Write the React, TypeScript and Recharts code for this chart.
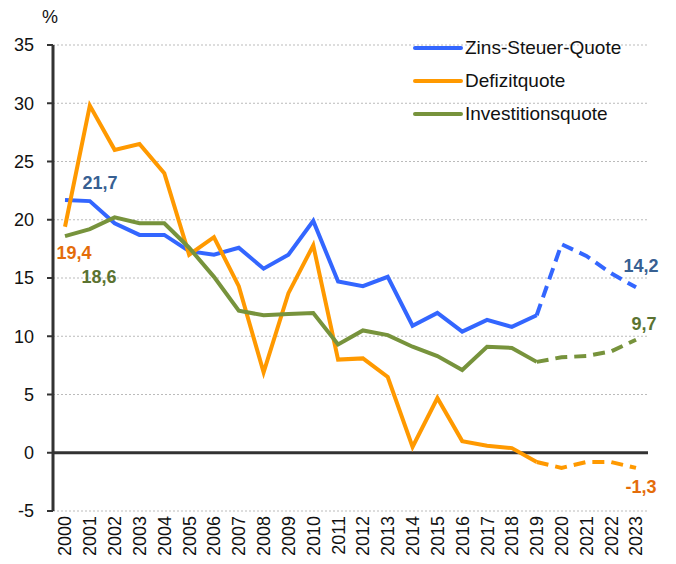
import React from "react";
import {
  LineChart,
  Line,
  XAxis,
  YAxis,
  CartesianGrid,
  ReferenceLine,
  Legend,
  LabelList,
  Customized,
} from "recharts";

const YEARS = [
  "2000", "2001", "2002", "2003", "2004", "2005", "2006", "2007",
  "2008", "2009", "2010", "2011", "2012", "2013", "2014", "2015",
  "2016", "2017", "2018", "2019", "2020", "2021", "2022", "2023",
];

// Zins-Steuer-Quote
const ZINS = [
  21.7, 21.6, 19.7, 18.7, 18.7, 17.3, 17.0, 17.6, 15.8, 17.0, 19.9, 14.7,
  14.3, 15.1, 10.9, 12.0, 10.4, 11.4, 10.8, 11.8, 17.9, 16.9, 15.4, 14.2,
];

// Defizitquote
const DEFIZIT = [
  19.4, 29.8, 26.0, 26.5, 24.0, 17.0, 18.5, 14.3, 6.9, 13.7, 17.8, 8.0,
  8.1, 6.5, 0.5, 4.7, 1.0, 0.6, 0.4, -0.8, -1.3, -0.8, -0.8, -1.3,
];

// Investitionsquote
const INVEST = [
  18.6, 19.2, 20.2, 19.7, 19.7, 17.6, 15.1, 12.2, 11.8, 11.9, 12.0, 9.3,
  10.5, 10.1, 9.1, 8.3, 7.1, 9.1, 9.0, 7.8, 8.2, 8.3, 8.7, 9.7,
];

const Y_TICKS = [-5, 0, 5, 10, 15, 20, 25, 30, 35];

// ab hier Prognose (gestrichelt)
const FORECAST_FROM = "2019";

const SERIES = [
  { key: "zins", name: "Zins-Steuer-Quote", values: ZINS, color: "#3366FF", label: "#376092" },
  { key: "defizit", name: "Defizitquote", values: DEFIZIT, color: "#FF9900", label: "#E46C0A" },
  { key: "invest", name: "Investitionsquote", values: INVEST, color: "#77933C", label: "#5B7331" },
];

// label offsets relative to the first / last point
const LABEL_OFFSETS: Record<string, { first: [number, number]; last: [number, number] }> = {
  zins: { first: [35, -17], last: [5, -21] },
  defizit: { first: [9, 26], last: [5, 19] },
  invest: { first: [34, 41], last: [8, -16] },
};

const FONT = "'Liberation Sans', Arial, sans-serif";

const splitIdx = YEARS.indexOf(FORECAST_FROM);
const data = YEARS.map((year, i) => {
  const row: any = { year };
  SERIES.forEach((s) => {
    row[s.key] = i <= splitIdx ? s.values[i] : null;
    row[s.key + "_p"] = i >= splitIdx ? s.values[i] : null;
  });
  return row;
});

const fmt = (v: number) => v.toFixed(1).replace(".", ",");

const pointLabel = (key: string, color: string, which: "first" | "last") => (props: any) => {
  const { x, y, value, index } = props;
  const target = which === "first" ? 0 : YEARS.length - 1;
  if (index !== target || value == null) return null;
  const [dx, dy] = LABEL_OFFSETS[key][which];
  return (
    <text
      x={x + dx}
      y={y + dy}
      textAnchor="middle"
      dominantBaseline="central"
      fontFamily={FONT}
      fontSize={18}
      fontWeight="bold"
      fill={color}
    >
      {fmt(value)}
    </text>
  );
};

const YearTick = (props: any) => {
  const { x, y, payload } = props;
  return (
    <text
      x={x}
      y={y}
      transform={`rotate(-90 ${x} ${y})`}
      textAnchor="end"
      dy="0.36em"
      fontFamily={FONT}
      fontSize={18}
      fill="#111"
    >
      {payload.value}
    </text>
  );
};

const LegendBox = () => (
  <div style={{ fontFamily: FONT, fontSize: 19, color: "#111" }}>
    {SERIES.map((s) => (
      <div key={s.key} style={{ display: "flex", alignItems: "center", height: 33 }}>
        <svg width={52} height={10} style={{ marginRight: 0 }}>
          <line x1={2} y1={5} x2={48} y2={5} stroke={s.color} strokeWidth={4} strokeLinecap="round" />
        </svg>
        <span style={{ whiteSpace: "nowrap" }}>{s.name}</span>
      </div>
    ))}
  </div>
);

export default function App() {
  return (
    <div style={{ width: 676, height: 564, background: "#fff" }}>
      <style>{"body{margin:0}"}</style>
      <LineChart
        width={676}
        height={564}
        data={data}
        margin={{ top: 45, right: 28, bottom: 0, left: 0 }}
      >
        <CartesianGrid vertical={false} stroke="#bbb" strokeDasharray="2 2" />
        <XAxis
          dataKey="year"
          interval={0}
          height={53}
          padding={{ left: 12, right: 12 }}
          axisLine={false}
          tickLine={false}
          tickSize={3}
          tickMargin={2}
          tick={<YearTick />}
        />
        <YAxis
          width={53}
          domain={[-5, 35]}
          ticks={Y_TICKS}
          interval={0}
          axisLine={{ stroke: "#333", strokeWidth: 3 }}
          tickLine={{ stroke: "#333", strokeWidth: 2 }}
          tickSize={6}
          tickMargin={13}
          tick={{ fontFamily: FONT, fontSize: 18, fill: "#111" }}
        />
        <ReferenceLine y={0} stroke="#333" strokeWidth={3} />
        <Legend
          layout="horizontal"
          verticalAlign="middle"
          align="center"
          content={() => <LegendBox />}
          wrapperStyle={{ left: 413, top: 31, width: 250 }}
        />
        <Customized
          component={() => (
            <text x={50} y={17} textAnchor="middle" dominantBaseline="central" fontFamily={FONT} fontSize={18} fill="#111">
              %
            </text>
          )}
        />
        {SERIES.map((s) => (
          <Line
            key={s.key}
            dataKey={s.key}
            name={s.name}
            stroke={s.color}
            strokeWidth={4}
            dot={false}
            activeDot={false}
            isAnimationActive={false}
            connectNulls={false}
          >
            <LabelList dataKey={s.key} content={pointLabel(s.key, s.label, "first")} />
          </Line>
        ))}
        {SERIES.map((s) => (
          <Line
            key={s.key + "_p"}
            dataKey={s.key + "_p"}
            name={s.name}
            legendType="none"
            stroke={s.color}
            strokeWidth={4}
            strokeDasharray="12 7"
            dot={false}
            activeDot={false}
            isAnimationActive={false}
          >
            <LabelList dataKey={s.key + "_p"} content={pointLabel(s.key, s.label, "last")} />
          </Line>
        ))}
      </LineChart>
    </div>
  );
}
